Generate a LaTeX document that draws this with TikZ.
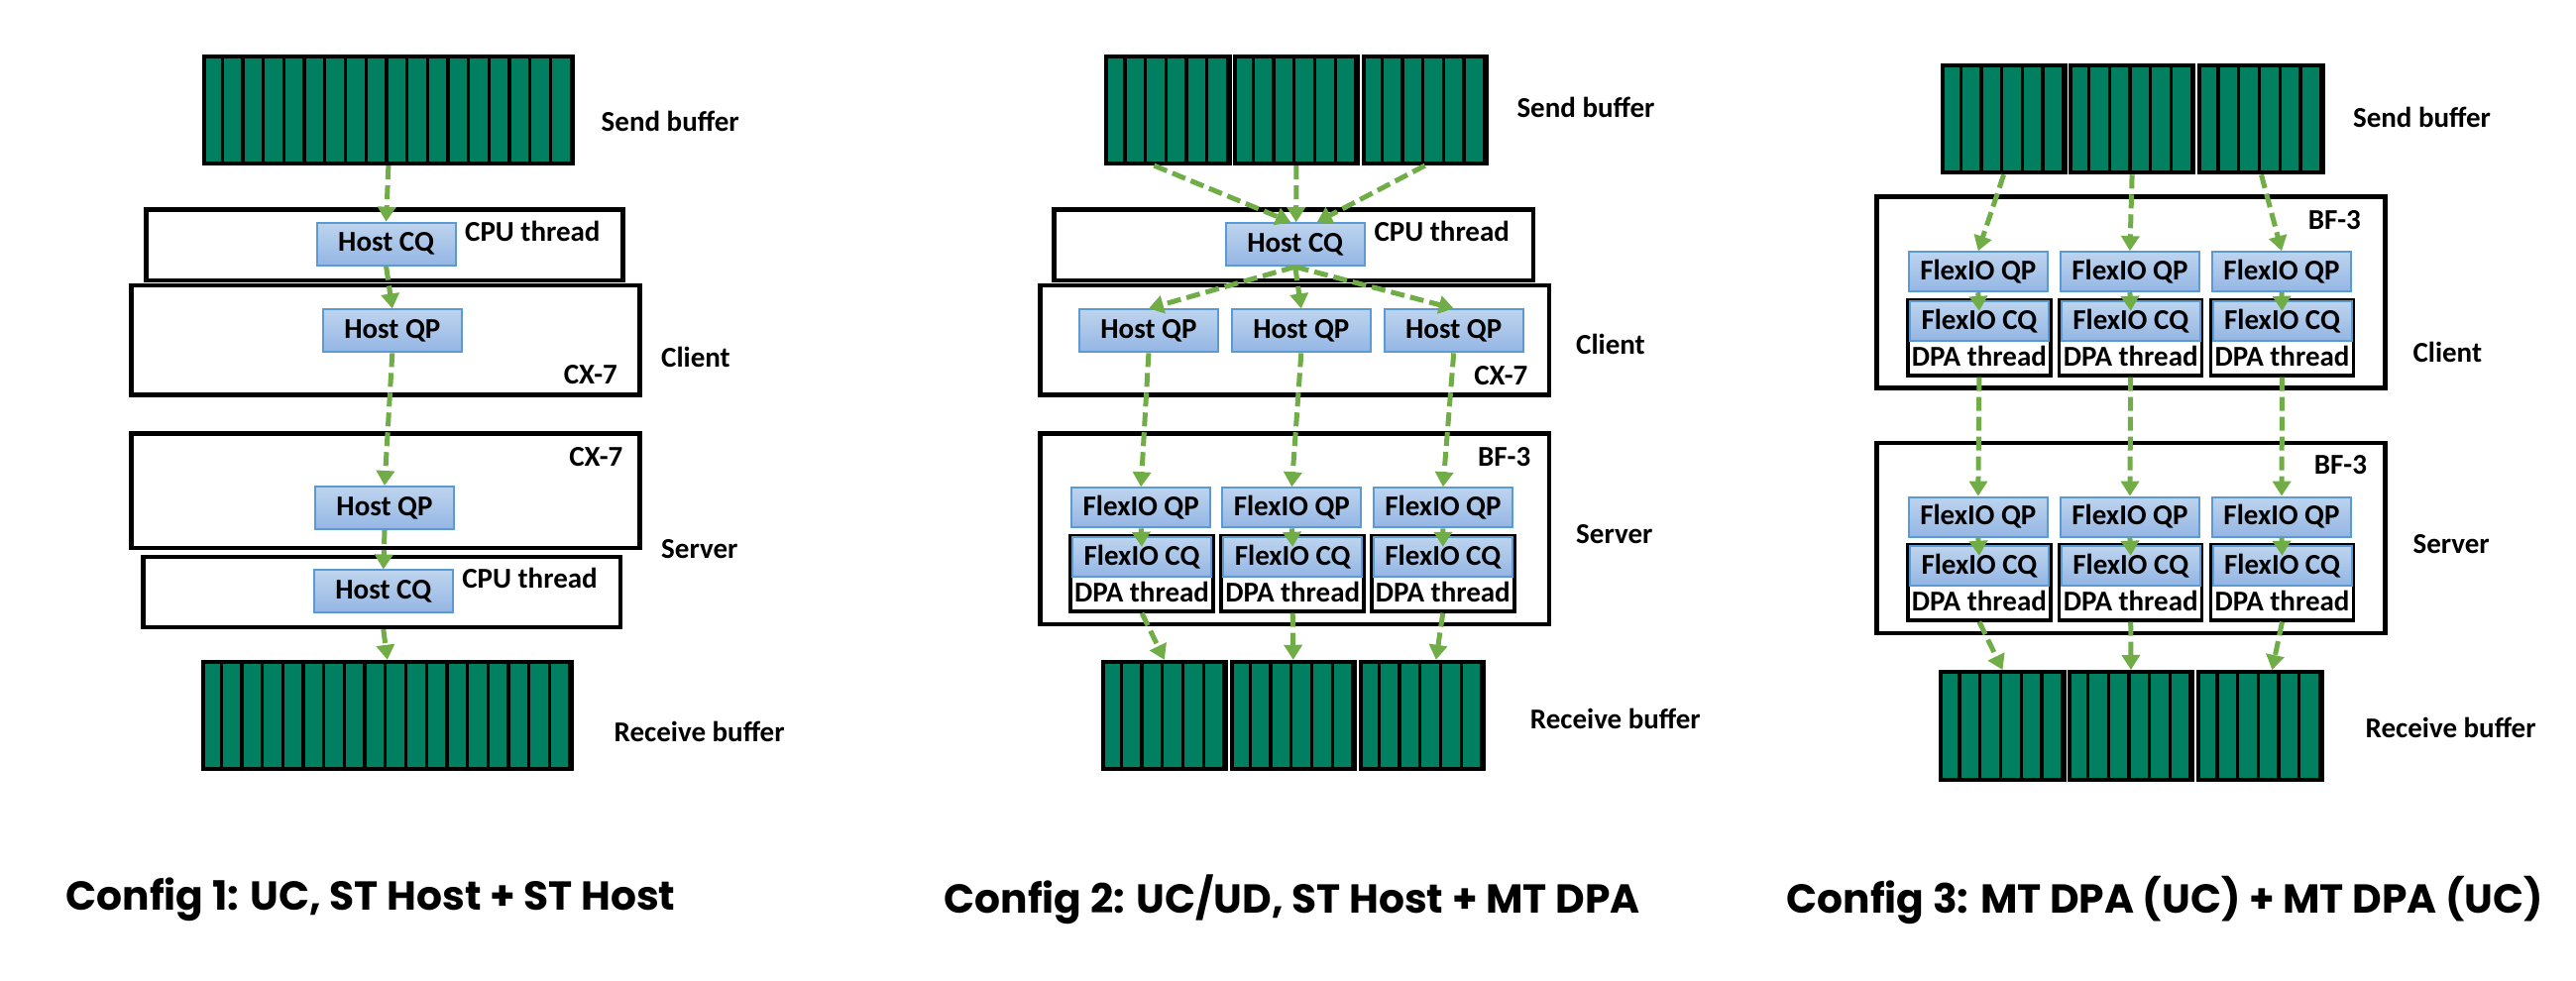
\documentclass[tikz,border=0pt]{standalone}
\usepackage{fontspec}
\newfontfamily\lblfont{Carlito}
\newfontfamily\capfont{Poppins}
\usetikzlibrary{arrows.meta,positioning}
\definecolor{bufgreen}{RGB}{0,128,96}
\definecolor{flowgreen}{RGB}{112,173,71}
\definecolor{qtop}{RGB}{190,212,238}
\definecolor{qbot}{RGB}{148,182,228}
\definecolor{qborder}{RGB}{91,155,213}

\begin{document}
\begin{tikzpicture}[x=0.1mm, y=-0.1mm,
        buf/.style={draw, line width=0.4mm, fill=bufgreen, minimum height=10.85mm, inner sep=0pt},
        bufline/.style={line width=0.33mm},
        frame/.style={draw, line width=0.45mm, fill=white, inner sep=0pt, anchor=north west},
        qbox/.style={draw=qborder, line width=0.2mm, top color=qtop, bottom color=qbot, minimum width=14mm, minimum height=4.3mm, inner sep=0pt, font=\lblfont\bfseries\fontsize{8.25}{9}\selectfont},
        dpabox/.style={draw, line width=0.35mm, fill=white, minimum width=14.4mm, minimum height=7.6mm, inner sep=0pt},
        lbl/.style={inner sep=0pt, font=\lblfont\bfseries\fontsize{8.25}{9}\selectfont},
        capt/.style={anchor=west, inner sep=0pt, font=\capfont\bfseries\fontsize{11.6}{13}\selectfont},
        flow/.style={draw=flowgreen, line width=0.5mm, dash pattern=on 1.4mm off 0.6mm, -{Triangle[width=1.8mm,length=1.5mm]}}]
        \useasboundingbox (0,0) rectangle (2599,990);
        \def\cell{2.07mm}

        % buffers
        \foreach \name/\x/\y/\n in {sb-1/203.6/54.6/18, rb-1/202.5/665.8/18,
                sb-2a/1114.3/54.6/6, sb-2b/1243.7/54.6/6, sb-2c/1373.6/54.6/6,
                rb-2a/1110.7/665.8/6, rb-2b/1240.7/665.8/6, rb-2c/1370.7/665.8/6,
                sb-3a/1957.5/63.8/6, sb-3b/2087/63.8/6, sb-3c/2217.4/63.8/6,
                rb-3a/1956.4/676/6, rb-3b/2085.8/676/6, rb-3c/2216.3/676/6} {
            \node[buf, minimum width=\n*\cell, anchor=north west] (\name) at (\x,\y) {};
            \foreach \i in {1,...,\n}
                \draw[bufline] ([xshift=\i*\cell]\name.north west) -- ([xshift=\i*\cell]\name.south west);
        }

        % Config 1
        \node[frame, minimum width=48.1mm, minimum height=7.14mm] (cpu-1) at (145,209.2) {};
        \node[frame, minimum width=51.3mm, minimum height=11.07mm] (cx-1) at (130,285.7) {};
        \node[frame, minimum width=51.3mm, minimum height=11.58mm] (cx-1s) at (130,435.2) {};
        \node[frame, minimum width=48.15mm, minimum height=7.09mm] (cpu-1s) at (142,559.7) {};
        \node[qbox] (hcq-1) at (389.6,246.2) {Host CQ};
        \node[qbox] (hqp-1) at (395.8,333.9) {Host QP};
        \node[qbox] (hqp-1s) at (388,512.5) {Host QP};
        \node[qbox] (hcq-1s) at (386.8,597) {Host CQ};
        \node[lbl, anchor=west] (sbl-1) at (606,122.4) {Send buffer};
        \node[lbl, anchor=west] (cpul-1) at (468.5,233.2) {CPU thread};
        \node[lbl, anchor=east] (cxl-1) at (623.5,377.6) {CX-7};
        \node[lbl, anchor=west] (cli-1) at (666.5,360.2) {Client};
        \node[lbl, anchor=east] (cxl-1s) at (629,460.7) {CX-7};
        \node[lbl, anchor=west] (srv-1) at (666.5,553.6) {Server};
        \node[lbl, anchor=west] (cpul-1s) at (465.7,583.2) {CPU thread};
        \node[lbl, anchor=west] (rbl-1) at (619,738.8) {Receive buffer};
        \node[capt] (cap-1) at (66,908) {Config 1: UC, ST Host + ST Host};

        \draw[flow] (sb-1.south) -- (hcq-1.north);
        \draw[flow] (hcq-1.south) -- (hqp-1.north);
        \draw[flow] (hqp-1.south) -- (hqp-1s.north);
        \draw[flow] (hqp-1s.south) -- (hcq-1s.north);
        \draw[flow] (hcq-1s.south |- cpu-1s.south) -- (rb-1.north);

        % Config 2
        \node[frame, minimum width=48.36mm, minimum height=7.14mm] (cpu-2) at (1061.3,209.2) {};
        \node[frame, minimum width=51.31mm, minimum height=11.07mm] (cx-2) at (1047.4,285.7) {};
        \node[frame, minimum width=51.31mm, minimum height=19.24mm] (bf-2) at (1047.4,435.2) {};
        \node[qbox] (hcq-2) at (1306.7,246.7) {Host CQ};
        \foreach \c/\qx/\fx/\dx in {a/1158.9/1151.2/1152, b/1312.8/1303.3/1304.2, c/1466.7/1455.9/1455.8} {
            \node[qbox] (hqp-2\c) at (\qx,333.9) {Host QP};
            \node[qbox, minimum height=4mm] (fqp-2\c) at (\fx,512.3) {FlexIO QP};
            \node[dpabox] (dpa-2\c) at (\dx,578.9) {};
            \node[qbox, minimum height=4mm, anchor=north] (fcq-2\c) at ([yshift=-0.17mm]dpa-2\c.north) {FlexIO CQ};
            \node[lbl] (dpt-2\c) at ([yshift=2.1mm]dpa-2\c.south) {DPA thread};
        }
        \node[lbl, anchor=west] (sbl-2) at (1529.8,108.2) {Send buffer};
        \node[lbl, anchor=west] (cpul-2) at (1385.9,233.2) {CPU thread};
        \node[lbl, anchor=east] (cxl-2) at (1542,378.6) {CX-7};
        \node[lbl, anchor=west] (cli-2) at (1589.5,347) {Client};
        \node[lbl, anchor=east] (bfl-2) at (1544.9,460.7) {BF-3};
        \node[lbl, anchor=west] (srv-2) at (1589.5,539.3) {Server};
        \node[lbl, anchor=west] (rbl-2) at (1543.2,725.5) {Receive buffer};
        \node[capt] (cap-2) at (952,908) {Config 2: UC/UD, ST Host + MT DPA};

        \foreach \c/\s/\t/\u in {a/0/-0.45/-1.4, b/0/0.1/0, c/1.4/2.2/0} {
            \draw[flow] ([xshift=\u mm]sb-2\c.south) -- ([xshift=\t mm]hcq-2.north);
            \draw[flow] (hcq-2.south) -- (hqp-2\c.north);
            \draw[flow] (hqp-2\c.south) -- (fqp-2\c.north);
            \draw[flow] (fqp-2\c.south) -- ([yshift=-1.1mm]fcq-2\c.north);
            \draw[flow] (dpa-2\c.south) -- ([xshift=\s mm]rb-2\c.north);
        }

        % Config 3
        \node[frame, minimum width=51.26mm, minimum height=19.29mm] (bf-3) at (1891.4,196.4) {};
        \node[frame, minimum width=51.26mm, minimum height=19.18mm] (bf-3s) at (1891.4,444.9) {};
        \foreach \c/\fx/\dx in {a/1995.8/1996.9, b/2148.9/2149.7, c/2302/2302.5} {
            \node[qbox, minimum height=4mm] (fqpc-3\c) at (\fx,274.2) {FlexIO QP};
            \node[dpabox] (dpac-3\c) at (\dx,340.9) {};
            \node[qbox, minimum height=4mm, anchor=north] (fcqc-3\c) at ([yshift=-0.17mm]dpac-3\c.north) {FlexIO CQ};
            \node[lbl] (dptc-3\c) at ([yshift=2.1mm]dpac-3\c.south) {DPA thread};
            \node[qbox, minimum height=4mm] (fqps-3\c) at (\fx,521.6) {FlexIO QP};
            \node[dpabox] (dpas-3\c) at (\dx,587.8) {};
            \node[qbox, minimum height=4mm, anchor=north] (fcqs-3\c) at ([yshift=-0.17mm]dpas-3\c.north) {FlexIO CQ};
            \node[lbl] (dpts-3\c) at ([yshift=2.1mm]dpas-3\c.south) {DPA thread};
        }
        \node[lbl, anchor=west] (sbl-3) at (2373.3,118.4) {Send buffer};
        \node[lbl, anchor=east] (bfl-3) at (2382.6,221.9) {BF-3};
        \node[lbl, anchor=west] (cli-3) at (2433.8,355.6) {Client};
        \node[lbl, anchor=east] (bfl-3s) at (2388.7,469.4) {BF-3};
        \node[lbl, anchor=west] (srv-3) at (2433.8,549.5) {Server};
        \node[lbl, anchor=west] (rbl-3) at (2386,734.7) {Receive buffer};
        \node[capt] (cap-3) at (1802,908) {Config 3: MT DPA (UC) + MT DPA (UC)};

        \foreach \c/\s in {a/0, b/0, c/1.2} {
            \draw[flow] (sb-3\c.south) -- (fqpc-3\c.north);
            \draw[flow] (fqpc-3\c.south) -- ([yshift=-1.1mm]fcqc-3\c.north);
            \draw[flow] (dpac-3\c.south) -- (fqps-3\c.north);
            \draw[flow] (fqps-3\c.south) -- ([yshift=-1.1mm]fcqs-3\c.north);
            \draw[flow] (dpas-3\c.south) -- ([xshift=\s mm]rb-3\c.north);
        }
    \end{tikzpicture}
\end{document}
